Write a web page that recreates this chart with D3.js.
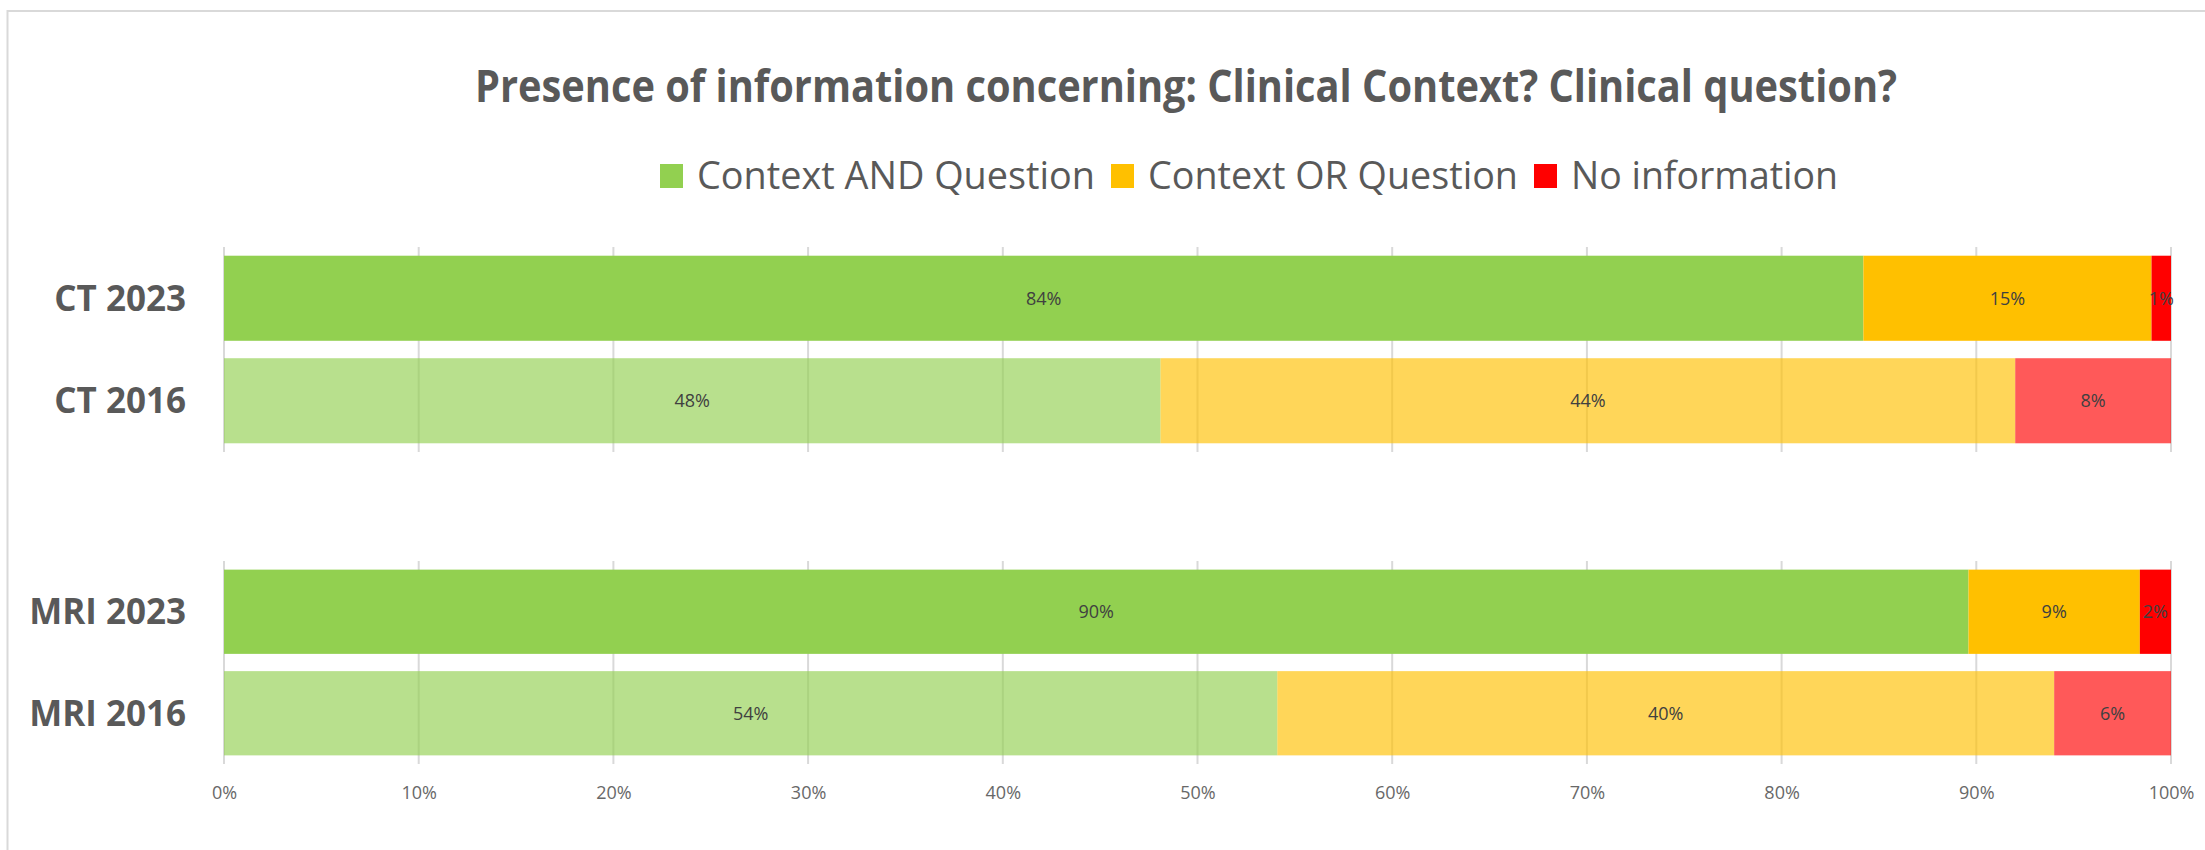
<!DOCTYPE html>
<html>
<head>
<meta charset="utf-8">
<script src="https://cdn.jsdelivr.net/npm/d3@7"></script>
<style>
  body { margin: 0; background: #fff; }
  text { font-family: "Open Sans", sans-serif; }
</style>
</head>
<body>
<div id="chart"></div>
<script>
// data (percent of requests)
const categories = ["CT 2023", "CT 2016", "MRI 2023", "MRI 2016"];
const groups = [["CT 2023", "CT 2016"], ["MRI 2023", "MRI 2016"]];
const seriesNames = ["Context AND Question", "Context OR Question", "No information"];
const contextAnd = [84.2, 48.1, 89.6, 54.1];
const contextOr = [14.8, 43.9, 8.8, 39.9];
const noInfo = [1.0, 8.0, 1.6, 6.0];
const xTicks = [0, 10, 20, 30, 40, 50, 60, 70, 80, 90, 100];

const rows = categories.map((c, i) => ({
  cat: c,
  "Context AND Question": contextAnd[i],
  "Context OR Question": contextOr[i],
  "No information": noInfo[i]
}));

const W = 2205, H = 850;
const color = d3.scaleOrdinal().domain(seriesNames).range(["#92D050", "#FFC000", "#FF0000"]);

const svg = d3.select("#chart").append("svg")
  .attr("width", W).attr("height", H);

// chart frame
svg.append("rect")
  .attr("x", 7.5).attr("y", 11)
  .attr("width", W + 20).attr("height", H + 20)
  .attr("fill", "none").attr("stroke", "#d9d9d9").attr("stroke-width", 2);

// title
svg.append("text")
  .attr("x", 1186).attr("y", 102)
  .attr("text-anchor", "middle")
  .attr("fill", "#595959")
  .style("font-size", "44px").style("font-weight", "bold")
  .attr("textLength", 1422).attr("lengthAdjust", "spacingAndGlyphs")
  .text("Presence of information concerning: Clinical Context? Clinical question?");

// legend
const legendX = [660, 1111, 1534];
const legendW = [398, 370, 267];
const legend = svg.append("g");
seriesNames.forEach((s, i) => {
  legend.append("rect")
    .attr("x", legendX[i]).attr("y", 164)
    .attr("width", 23).attr("height", 24)
    .attr("fill", color(s));
  legend.append("text")
    .attr("x", legendX[i] + 37).attr("y", 189)
    .attr("fill", "#595959")
    .style("font-size", "38px")
    .attr("textLength", legendW[i]).attr("lengthAdjust", "spacingAndGlyphs")
    .text(s);
});

const x = d3.scaleLinear().domain([0, 100]).range([224, 2171]);
const stack = d3.stack().keys(seriesNames);
const stacked = stack(rows);

const panels = [[247, 452], [561, 764]];

groups.forEach((grp, gi) => {
  const y = d3.scaleBand().domain(grp).range(panels[gi])
    .paddingInner(0.17).paddingOuter(0.085);
  const g = svg.append("g");

  // vertical gridlines
  g.append("g")
    .selectAll("line")
    .data(xTicks)
    .join("line")
    .attr("x1", d => x(d)).attr("x2", d => x(d))
    .attr("y1", panels[gi][0]).attr("y2", panels[gi][1])
    .attr("stroke", "#d9d9d9").attr("stroke-width", 2);

  // bars, 2016 rows drawn lighter (gridlines show through)
  stacked.forEach(layer => {
    g.append("g")
      .selectAll("rect")
      .data(layer.filter(d => grp.includes(d.data.cat)))
      .join("rect")
      .attr("x", d => x(d[0]))
      .attr("width", d => x(d[1]) - x(d[0]))
      .attr("y", d => y(d.data.cat))
      .attr("height", y.bandwidth())
      .attr("fill", color(layer.key))
      .attr("fill-opacity", d => d.data.cat.endsWith("2016") ? 0.65 : 1);
  });

  // value labels
  stacked.forEach(layer => {
    g.append("g")
      .selectAll("text")
      .data(layer.filter(d => grp.includes(d.data.cat)))
      .join("text")
      .attr("x", d => (x(d[0]) + x(d[1])) / 2)
      .attr("y", d => y(d.data.cat) + y.bandwidth() / 2)
      .attr("dy", "0.36em")
      .attr("text-anchor", "middle")
      .attr("fill", "#404040")
      .style("font-size", "18px")
      .text(d => Math.round(d[1] - d[0]) + "%");
  });

  // category labels
  g.append("g")
    .selectAll("text")
    .data(grp)
    .join("text")
    .attr("x", 186)
    .attr("y", d => y(d) + y.bandwidth() / 2)
    .attr("dy", "0.36em")
    .attr("text-anchor", "end")
    .attr("fill", "#595959")
    .style("font-size", "35px").style("font-weight", "bold")
    .text(d => d);

  // x axis labels only under the lower panel
  if (gi === 1) {
    const ax = g.append("g")
      .attr("transform", `translate(0,${panels[gi][1]})`)
      .call(d3.axisBottom(x).tickValues(xTicks).tickSize(0).tickPadding(22)
        .tickFormat(d => d + "%"));
    ax.select(".domain").remove();
    ax.selectAll("text")
      .attr("fill", "#686868")
      .style("font-size", "18px")
      .style("font-family", "'Open Sans', sans-serif");
  }
});
</script>
</body>
</html>
